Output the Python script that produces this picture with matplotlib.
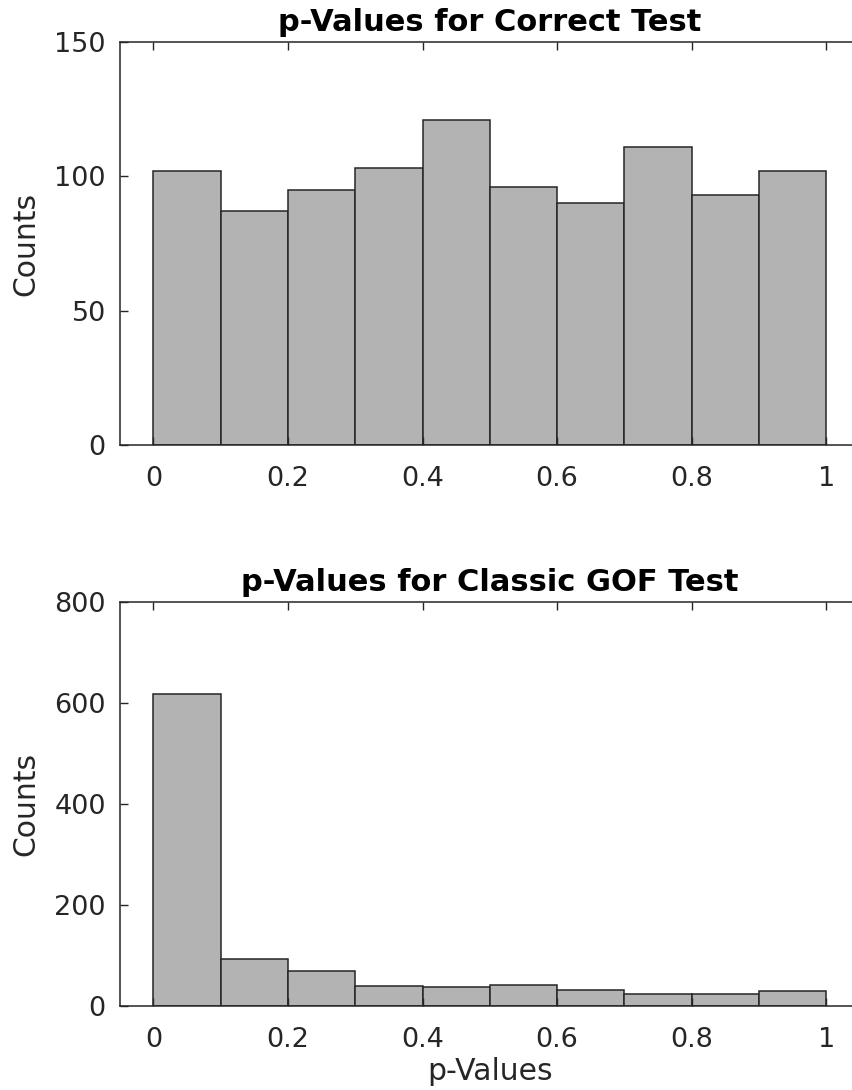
import matplotlib
matplotlib.use('Agg')
import matplotlib.pyplot as plt

''' Data '''
bin_edges = [0.0, 0.1, 0.2, 0.3, 0.4, 0.5, 0.6, 0.7, 0.8, 0.9, 1.0]
correct_counts = [102, 87, 95, 103, 121, 96, 90, 111, 93, 102]
classic_counts = [618, 93, 69, 40, 37, 42, 32, 24, 24, 29]
xticks = [0, 0.2, 0.4, 0.6, 0.8, 1]
xticklabels = ['0', '0.2', '0.4', '0.6', '0.8', '1']
yticks_top = [0, 50, 100, 150]
yticks_bottom = [0, 200, 400, 600, 800]

axcol = '#262626'
plt.rcParams['font.family'] = 'DejaVu Sans'

fig = plt.figure(figsize=(8.53, 10.9), dpi=100)
ax1 = fig.add_axes([0.1403, 0.5917, 0.868, 0.3697])
ax2 = fig.add_axes([0.1403, 0.0771, 0.868, 0.3706])

def draw_hist(ax, counts, yticks, title, xlabel=None):
    lefts = bin_edges[:-1]
    widths = [b - a for a, b in zip(bin_edges[:-1], bin_edges[1:])]
    ax.bar(lefts, counts, width=widths, align='edge', color='#b3b3b3',
           edgecolor='#262626', linewidth=1.1)
    ax.set_xlim(-0.05, 1.05)
    ax.set_ylim(yticks[0], yticks[-1])
    ax.set_xticks(xticks)
    ax.set_xticklabels(xticklabels)
    ax.set_yticks(yticks)
    ax.tick_params(direction='in', top=True, right=True, length=6, width=1.0,
                   colors=axcol, labelsize=19.5)
    ax.tick_params(axis='x', pad=15)
    ax.tick_params(axis='y', pad=10)
    for s in ax.spines.values():
        s.set_color(axcol)
        s.set_linewidth(1.1)
    # right edge of the axes box falls outside the picture in the reference
    ax.spines['right'].set_visible(False)
    ax.set_ylabel('Counts', fontsize=21.5, color=axcol, labelpad=10)
    if xlabel:
        ax.set_xlabel(xlabel, fontsize=21.5, color=axcol, labelpad=3)
    ax.set_title(title, fontsize=22, fontweight='bold', color='black', pad=8)

draw_hist(ax1, correct_counts, yticks_top, 'p-Values for Correct Test')
draw_hist(ax2, classic_counts, yticks_bottom, 'p-Values for Classic GOF Test', 'p-Values')

fig.savefig('out.png', dpi=100)
